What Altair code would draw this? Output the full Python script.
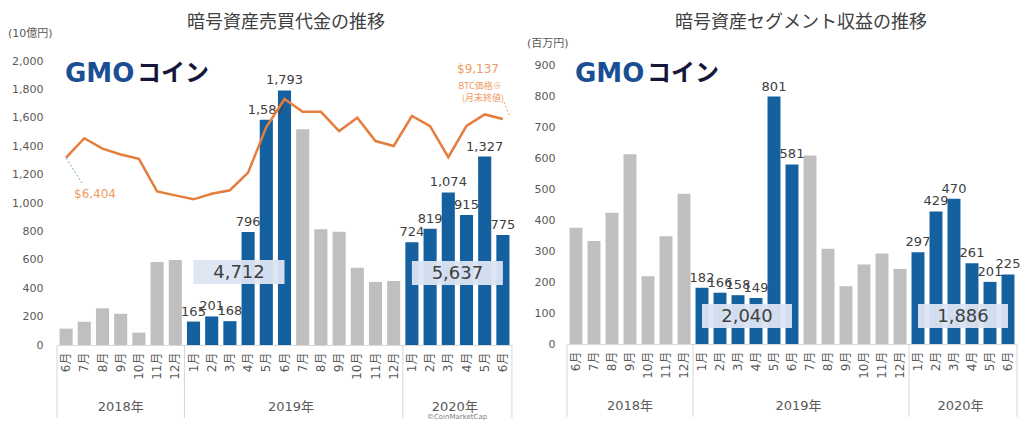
import altair as alt
import pandas as pd

# ---------------- data ----------------
month_keys = [
    "2018/6", "2018/7", "2018/8", "2018/9", "2018/10", "2018/11", "2018/12",
    "2019/1", "2019/2", "2019/3", "2019/4", "2019/5", "2019/6",
    "2019/7", "2019/8", "2019/9", "2019/10", "2019/11", "2019/12",
    "2020/1", "2020/2", "2020/3", "2020/4", "2020/5", "2020/6",
]
highlight = [0] * 7 + [1] * 6 + [0] * 6 + [1] * 6

# 暗号資産売買代金 (10億円)
trade_volume = [115, 164, 258, 220, 87, 585, 599,
                165, 201, 168, 796, 1587, 1793,
                1519, 815, 798, 544, 444, 451,
                724, 819, 1074, 915, 1327, 775]
# BTC価格 (月末終値, USD)
btc_price = [6404, 7780, 7040, 6630, 6320, 4020, 3740,
             3460, 3850, 4100, 5350, 8570, 10550,
             9650, 9650, 8290, 9230, 7580, 7230,
             9350, 8630, 6440, 8650, 9460, 9137]
# 暗号資産セグメント収益 (百万円)
segment_revenue = [376, 333, 425, 614, 219, 349, 486,
                   182, 166, 158, 149, 801, 581,
                   610, 308, 187, 257, 293, 243,
                   297, 429, 470, 261, 201, 225]

half_totals_volume = [4712, 5637]
half_totals_revenue = [2040, 1886]

years = ["2018年", "2019年", "2020年"]

left_title = "暗号資産売買代金の推移"
right_title = "暗号資産セグメント収益の推移"
left_unit = "(10億円)"
right_unit = "(百万円)"

# ---------------- style ----------------
BLUE = "#15609f"
GRAY = "#bfbfbf"
ORANGE = "#e57d3c"
TXT = "#404040"
AX = "#595959"
NUM_FONT = "DejaVu Sans, Noto Sans CJK JP"
JP_FONT = "Noto Sans CJK JP"

W1, H1 = 455, 284
W2, H2 = 450, 283

df = pd.DataFrame({
    "key": month_keys,
    "hl": highlight,
    "vol": trade_volume,
    "btc": btc_price,
    "rev": segment_revenue,
})

label_expr = "split(datum.value, '/')[1] + '月'"

X_SCALE = alt.Scale(paddingInner=0.28, paddingOuter=0.14)
X_AXIS = alt.Axis(title=None, labelAngle=-90, labelExpr=label_expr, ticks=False,
                  domainColor="#d9d9d9", labelFontSize=12, labelColor=AX,
                  labelPadding=7, labelFont=NUM_FONT, labelOverlap=False)


def xk(bp=None):
    if bp is None:
        return alt.X("key:N", sort=month_keys, scale=X_SCALE, axis=X_AXIS)
    return alt.X("key:N", sort=month_keys, scale=X_SCALE, axis=X_AXIS, bandPosition=bp)


def ann(text, x, y, size=12, color=TXT, align="center", weight="normal", font=NUM_FONT, baseline="middle"):
    return alt.Chart(pd.DataFrame({"t": [text]})).mark_text(
        align=align, baseline=baseline, fontSize=size, color=color, fontWeight=weight, font=font
    ).encode(x=alt.value(x), y=alt.value(y), text="t:N")


def year_layers(H):
    layers = []
    pos = [("2018/9", 0.5), ("2019/6", 1.0), ("2020/3", 1.0)]
    for (k, bp), yl in zip(pos, years):
        layers.append(
            alt.Chart(pd.DataFrame({"key": [k], "t": [yl]})).mark_text(
                fontSize=13, color=AX, font=NUM_FONT, baseline="middle"
            ).encode(x=xk(bp), y=alt.value(H + 62), text="t:N")
        )
    seps_start = alt.Chart(pd.DataFrame({"key": ["2018/6", "2019/1", "2020/1"]})).mark_rule(
        color="#d6d6d6", strokeWidth=1, xOffset=-2.5
    ).encode(x=xk(0), y=alt.value(H), y2=alt.value(H + 73))
    seps_end = alt.Chart(pd.DataFrame({"key": ["2020/6"]})).mark_rule(
        color="#d6d6d6", strokeWidth=1, xOffset=2.5
    ).encode(x=xk(1), y=alt.value(H), y2=alt.value(H + 73))
    return layers + [seps_start, seps_end]


def box(W, total, first_idx, yc):
    step = W / len(month_keys)
    x1 = (first_idx + 0.5) * step
    x2 = (first_idx + 5.5) * step
    rect = alt.Chart(pd.DataFrame({"t": [0]})).mark_rect(color="#dce5f3", opacity=0.95).encode(
        x=alt.value(x1), x2=alt.value(x2), y=alt.value(yc - 12), y2=alt.value(yc + 12))
    txt = ann(f"{total:,}", (x1 + x2) / 2, yc + 1, size=18, color=TXT)
    return [rect, txt]


def logo():
    return [
        ann("GMO", 8, 13, size=26, color="#1b4f93", align="left", weight="bold", font="DejaVu Sans"),
        ann("コイン", 80, 13, size=24, color="#16163a", align="left", weight="bold", font=JP_FONT),
    ]


color_enc = alt.Color("hl:N", scale=alt.Scale(domain=[0, 1], range=[GRAY, BLUE]), legend=None)


def bars_with_labels(field, domain, ticks, pad):
    yscale = alt.Scale(domain=domain, nice=False)
    yaxis = alt.Axis(values=ticks, format=",d", title=None, grid=False,
                     domain=False, ticks=False, labelPadding=pad, labelFontSize=11,
                     labelColor=AX, labelFont=NUM_FONT, labelOverlap=False)
    base = alt.Chart(df)
    bars = base.mark_bar().encode(
        x=xk(),
        y=alt.Y(f"{field}:Q", scale=yscale, axis=yaxis),
        color=color_enc,
    )
    labels = base.transform_filter("datum.hl == 1").mark_text(
        baseline="bottom", dy=-3, fontSize=13, color=TXT, font=NUM_FONT
    ).encode(
        x=xk(),
        y=alt.Y(f"{field}:Q", scale=yscale, axis=yaxis),
        text=alt.Text(f"{field}:Q", format=",d"),
    )
    return alt.layer(bars, labels)


# ---------------- left chart ----------------
bars_l = bars_with_labels("vol", [0, 2000], list(range(0, 2001, 200)), 14)

line_l = alt.Chart(df).mark_line(color=ORANGE, strokeWidth=2.5).encode(
    x=xk(),
    y=alt.Y("btc:Q", scale=alt.Scale(domain=[-6840, 13240], nice=False), axis=None),
)

left_ann = [
    ann(left_title, 229, -38, size=18, color=TXT, font=JP_FONT),
    ann(left_unit, -49, -27, size=11, color=AX, align="left", font=NUM_FONT),
    ann(f"${btc_price[0]:,}", 38, 133, size=12, color="#ee9b64"),
    ann(f"${btc_price[-1]:,}", 421, 8, size=12, color="#ee9b64"),
    ann("BTC価格※", 423, 25, size=9, color="#ee9b64", font=JP_FONT),
    ann("(月末終値)", 426, 37, size=9, color="#ee9b64", font=JP_FONT),
    ann("©CoinMarketCap", 400, 356, size=7, color="#808080"),
    alt.Chart(pd.DataFrame({"t": [0]})).mark_rule(color="#6aaab8", strokeDash=[2, 2], strokeWidth=1).encode(
        x=alt.value(9), y=alt.value(97), x2=alt.value(25), y2=alt.value(122)),
    alt.Chart(pd.DataFrame({"t": [0]})).mark_rule(color="#ee9b64", strokeDash=[2, 2], strokeWidth=1).encode(
        x=alt.value(447), y=alt.value(41), x2=alt.value(453), y2=alt.value(56)),
]

left = alt.layer(
    alt.layer(bars_l, line_l).resolve_scale(y="independent"),
    *box(W1, half_totals_volume[0], 7, 211),
    *box(W1, half_totals_volume[1], 19, 212),
    *left_ann, *logo(), *year_layers(H1),
).properties(width=W1, height=H1)

# ---------------- right chart ----------------
bars_r = bars_with_labels("rev", [0, 916], list(range(0, 901, 100)), 12)

right_ann = [
    ann(right_title, 234, -38, size=18, color=TXT, font=JP_FONT),
    ann(right_unit, -40, -17, size=11, color=AX, align="left", font=NUM_FONT),
]

right = alt.layer(
    bars_r,
    *box(W2, half_totals_revenue[0], 7, 255),
    *box(W2, half_totals_revenue[1], 19, 255),
    *right_ann, *logo(), *year_layers(H2),
).properties(width=W2, height=H2)

chart = alt.hconcat(left, right, spacing=55, bounds="flush").configure(
    padding={"top": 6, "left": 0, "right": 0, "bottom": 0}, font=NUM_FONT
).configure_view(stroke=None)

chart.save("out.html", embed_options={"renderer": "svg", "actions": False})
